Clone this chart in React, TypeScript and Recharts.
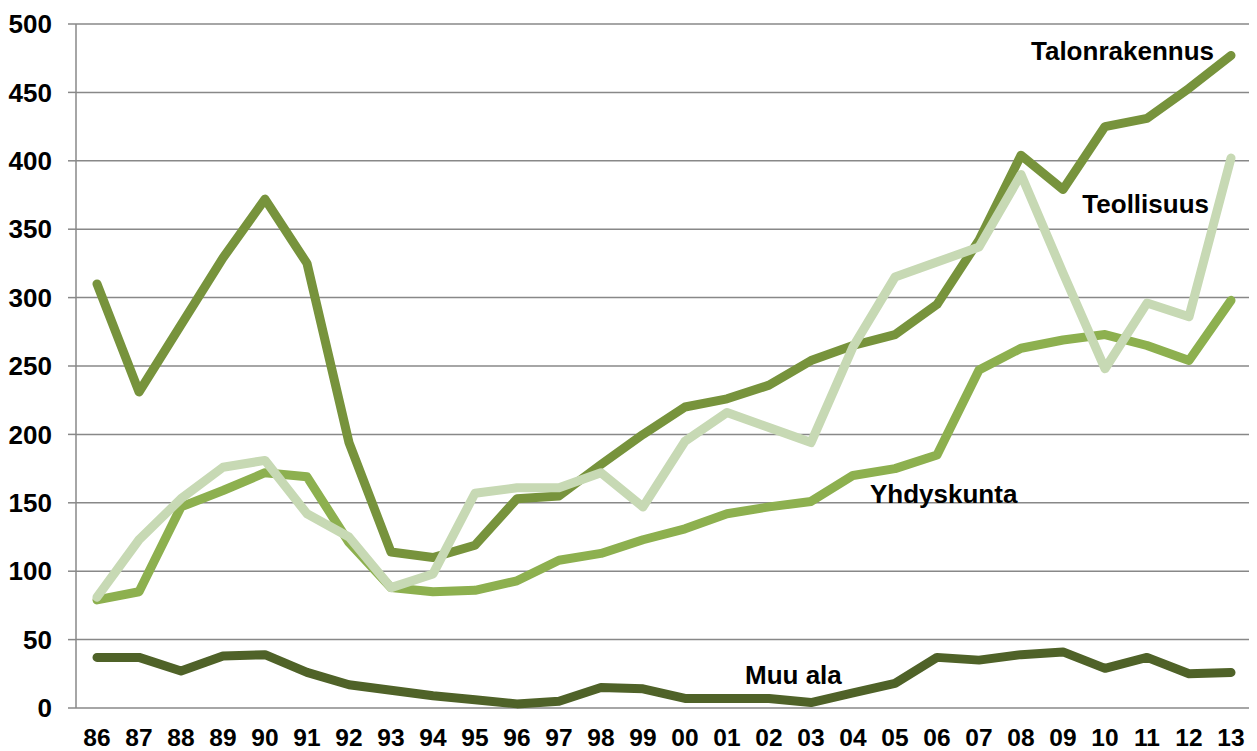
import React from "react";
import { LineChart, Line, XAxis, YAxis, CartesianGrid, LabelList } from "recharts";

const years = ["86","87","88","89","90","91","92","93","94","95","96","97","98","99","00","01","02","03","04","05","06","07","08","09","10","11","12","13"];
const talonrakennus = [310,231,280,329,372,325,194,114,110,119,153,155,178,200,220,226,236,254,265,273,295,342,404,379,425,431,453,477];
const teollisuus = [81,123,153,176,181,142,125,88,98,157,161,161,172,147,195,216,205,194,264,315,326,337,390,318,248,296,286,402];
const yhdyskunta = [79,85,147,159,172,169,121,88,85,86,93,108,113,123,131,142,147,151,170,175,185,247,263,269,273,265,254,298];
const muuAla = [37,37,27,38,39,26,17,13,9,6,3,5,15,14,7,7,7,4,11,18,37,35,39,41,29,37,25,26];
const yTicks = [0,50,100,150,200,250,300,350,400,450,500];

const data = years.map((y, i) => ({
  i,
  year: y,
  talo: talonrakennus[i],
  teol: teollisuus[i],
  yhd: yhdyskunta[i],
  muu: muuAla[i],
}));
const labelTicks = years.map((_, i) => i);
const boundaryTicks = [...years.map((_, i) => i - 0.5), years.length - 0.5];

const FONT = "'Liberation Sans', Arial, sans-serif";

function seriesLabel(text: string, index: number, dx: number, dy: number, anchor: string) {
  return (props: any) => {
    if (props.index !== index) return null;
    return (
      <text
        x={Number(props.x) + dx}
        y={Number(props.y) + dy}
        textAnchor={anchor}
        fontFamily={FONT}
        fontWeight="bold"
        fontSize={26}
        fill="#000"
      >
        {text}
      </text>
    );
  };
}

const lineProps = {
  type: "linear" as const,
  strokeWidth: 9,
  strokeLinecap: "round" as const,
  strokeLinejoin: "round" as const,
  dot: false,
  activeDot: false,
  isAnimationActive: false,
  xAxisId: "labels",
};

export default function App() {
  return (
    <LineChart
      width={1249}
      height={743}
      data={data}
      margin={{ top: 16, right: 5, bottom: 0, left: 0 }}
    >
      <CartesianGrid horizontal vertical={false} stroke="#888888" strokeWidth={1.5} xAxisId="labels" />
      <XAxis
        xAxisId="ticks"
        dataKey="i"
        type="number"
        domain={[-0.5, years.length - 0.5]}
        ticks={boundaryTicks}
        interval={0}
        height={0}
        tickSize={8}
        tickFormatter={() => ""}
        axisLine={{ stroke: "#888888", strokeWidth: 1.5 }}
        tickLine={{ stroke: "#888888", strokeWidth: 1.5 }}
      />
      <XAxis
        xAxisId="labels"
        dataKey="i"
        type="number"
        domain={[-0.5, years.length - 0.5]}
        ticks={labelTicks}
        interval={0}
        height={43}
        tickSize={8}
        tickMargin={13}
        tickLine={false}
        axisLine={false}
        tickFormatter={(v: number) => years[v]}
        tick={{ fill: "#000", fontFamily: FONT, fontWeight: "bold", fontSize: 24.5 }}
      />
      <YAxis
        domain={[0, 500]}
        ticks={yTicks}
        interval={0}
        width={68}
        tickSize={8}
        tickMargin={16}
        axisLine={{ stroke: "#888888", strokeWidth: 1.5 }}
        tickLine={{ stroke: "#888888", strokeWidth: 1.5 }}
        tick={{ fill: "#000", fontFamily: FONT, fontWeight: "bold", fontSize: 26 }}
      />
      <Line {...lineProps} dataKey="muu" stroke="#4F6228">
        <LabelList dataKey="muu" content={seriesLabel("Muu ala", 15, 18, -14, "start")} />
      </Line>
      <Line {...lineProps} dataKey="yhd" stroke="#8DB04F">
        <LabelList dataKey="yhd" content={seriesLabel("Yhdyskunta", 18, 17, 28, "start")} />
      </Line>
      <Line {...lineProps} dataKey="talo" stroke="#77933C">
        <LabelList dataKey="talo" content={seriesLabel("Talonrakennus", 27, -17, 5, "end")} />
      </Line>
      <Line {...lineProps} dataKey="teol" stroke="#C7D9B4">
        <LabelList dataKey="teol" content={seriesLabel("Teollisuus", 27, -22, 55, "end")} />
      </Line>
    </LineChart>
  );
}
